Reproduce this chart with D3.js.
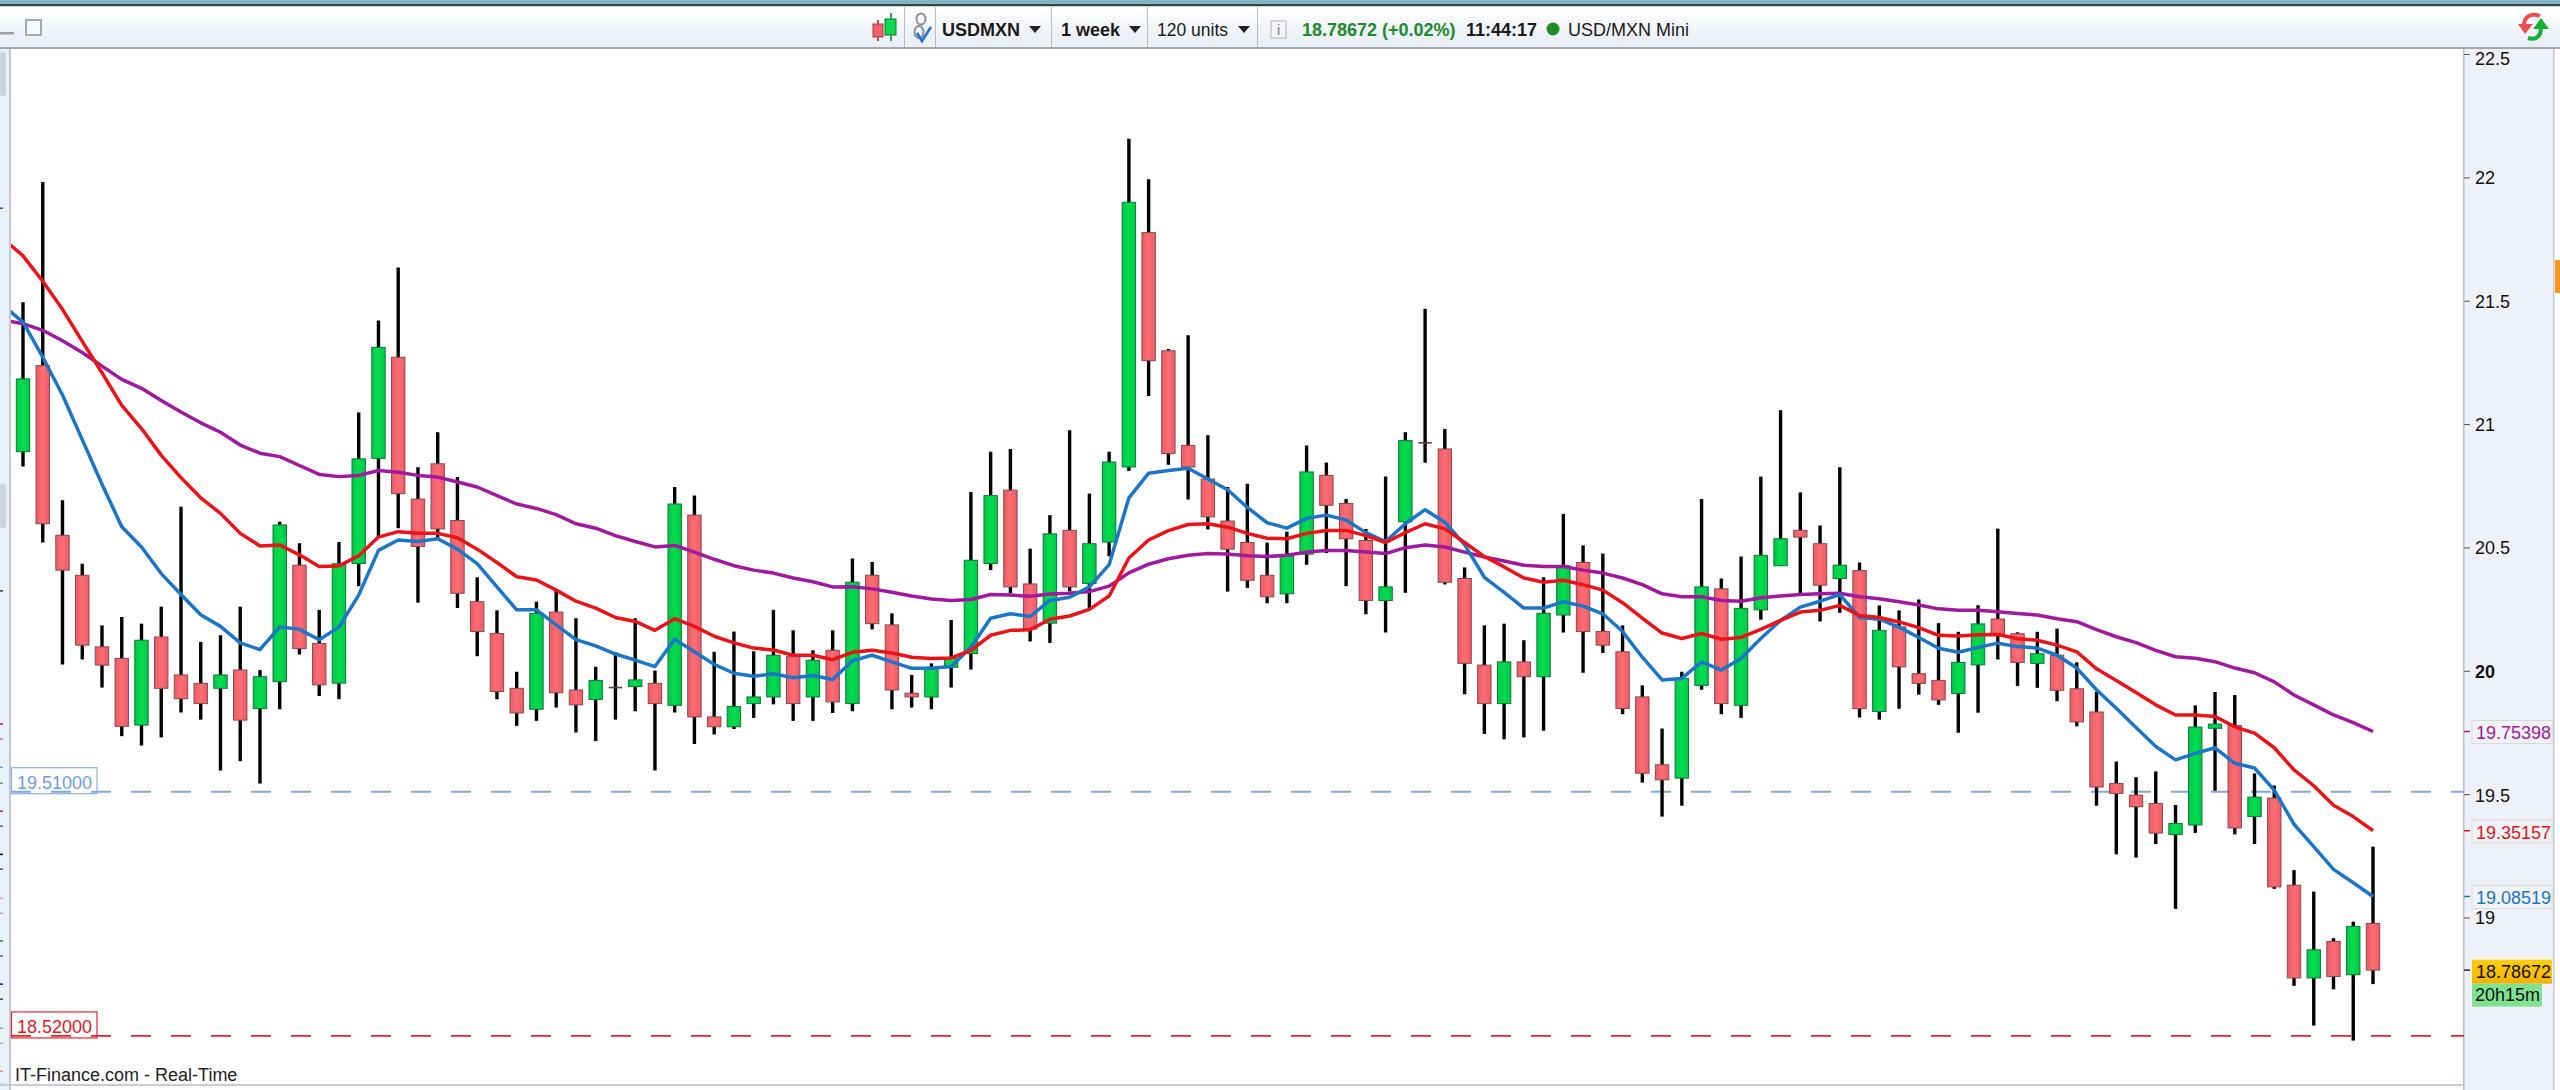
<!DOCTYPE html>
<html><head><meta charset="utf-8">
<script src="https://cdnjs.cloudflare.com/ajax/libs/d3/7.8.5/d3.min.js"></script>
<style>html,body{margin:0;padding:0;background:#fff;overflow:hidden}svg{display:block}text{font-family:"Liberation Sans",Arial,sans-serif}</style>
</head><body><svg id="c" width="2560" height="1090"></svg>
<script>
const highs=[21.494,21.981,20.691,20.434,20.184,20.218,20.191,20.260,20.665,20.117,
20.144,20.260,20.003,20.604,20.517,20.247,20.522,21.047,21.420,21.635,
20.825,20.967,20.785,20.379,20.245,19.996,20.280,20.325,20.213,20.016,
20.075,20.213,20.001,20.745,20.710,20.077,20.159,20.079,20.247,20.164,
20.083,20.164,20.455,20.441,20.233,19.983,20.030,20.206,20.725,20.888,
20.899,20.495,20.631,20.975,20.718,20.888,22.156,21.992,21.304,21.360,
20.955,20.745,20.758,20.520,20.564,20.913,20.844,20.696,20.575,20.787,
20.967,21.467,20.980,20.419,20.184,20.191,20.124,20.379,20.636,20.508,
20.475,20.184,19.941,19.766,19.996,20.696,20.374,20.463,20.787,21.056,
20.723,20.589,20.825,20.439,20.265,20.245,20.289,20.193,20.158,20.266,
20.576,20.156,20.158,20.171,20.034,19.915,19.632,19.569,19.592,19.456,
19.860,19.914,19.902,19.584,19.535,19.192,19.105,18.916,18.983,19.287];
const lows=[20.828,20.520,20.025,20.046,19.932,19.735,19.697,19.730,19.831,19.802,
19.596,19.634,19.543,19.844,20.066,19.898,19.885,20.343,20.542,20.578,
20.276,20.530,20.254,20.059,19.885,19.777,19.797,19.851,19.750,19.715,
19.802,19.836,19.596,19.831,19.703,19.742,19.764,19.809,19.864,19.797,
19.797,19.829,19.836,20.168,19.844,19.851,19.844,19.932,20.005,20.408,
20.314,20.119,20.113,20.321,20.251,20.464,20.810,21.114,20.835,20.694,
20.573,20.321,20.336,20.274,20.274,20.430,20.477,20.343,20.229,20.155,
20.316,20.843,20.350,19.905,19.744,19.722,19.730,19.757,20.155,19.992,
20.072,19.824,19.547,19.409,19.453,19.923,19.824,19.809,20.207,20.425,
20.307,20.200,20.235,19.811,19.802,19.846,19.903,19.862,19.749,19.830,
20.046,19.938,19.931,19.877,19.775,19.453,19.256,19.243,19.298,19.035,
19.343,19.514,19.337,19.298,19.116,18.723,18.562,18.709,18.501,18.730];
const opens=[20.888,21.237,20.549,20.387,20.097,20.050,19.780,20.137,19.983,19.949,
19.929,20.003,19.847,19.956,20.428,20.111,19.950,20.435,20.861,21.271,
20.696,20.839,20.609,20.280,20.151,19.929,19.844,20.238,19.922,19.884,
19.932,19.936,19.949,19.860,20.631,19.813,19.773,19.867,19.894,20.057,
19.894,20.083,19.867,20.387,20.186,19.909,19.894,20.014,20.070,20.435,
20.732,20.352,20.193,20.569,20.354,20.522,20.826,21.776,21.297,20.913,
20.777,20.607,20.520,20.387,20.312,20.473,20.792,20.678,20.528,20.285,
20.604,20.924,20.899,20.374,20.023,19.867,20.036,19.976,20.226,20.439,
20.159,20.077,19.894,19.619,19.565,19.941,20.332,19.860,20.247,20.426,
20.569,20.515,20.374,20.406,19.835,20.178,19.988,19.961,19.908,20.024,
20.210,20.150,20.030,20.063,19.927,19.833,19.543,19.496,19.462,19.336,
19.375,19.767,19.778,19.409,19.484,19.131,18.755,18.903,18.768,18.976];
const closes=[21.183,20.596,20.408,20.104,20.023,19.775,20.124,19.929,19.887,19.867,
19.983,19.800,19.976,20.591,20.090,19.943,20.434,20.859,21.311,20.718,
20.504,20.575,20.314,20.159,19.916,19.829,20.233,19.911,19.862,19.961,
19.932,19.963,19.867,20.676,19.813,19.773,19.855,19.894,20.063,19.867,
20.043,19.874,20.359,20.191,19.922,19.894,20.012,20.050,20.448,20.710,
20.340,20.169,20.555,20.340,20.515,20.846,21.899,21.257,20.881,20.826,
20.624,20.493,20.367,20.300,20.466,20.806,20.671,20.535,20.285,20.340,
20.933,20.924,20.359,20.030,19.867,20.036,19.976,20.233,20.426,20.159,
20.104,19.847,19.585,19.558,19.969,20.340,19.867,20.253,20.468,20.535,
20.542,20.347,20.428,19.847,20.164,20.016,19.949,19.882,20.034,20.190,
20.144,20.034,20.069,19.921,19.793,19.529,19.503,19.449,19.342,19.381,
19.772,19.784,19.363,19.488,19.124,18.755,18.869,18.761,18.964,18.787];
// moving averages: first value belongs to the bar just left of the visible window
const maBlue=[21.480,21.413,21.271,21.118,20.937,20.756,20.584,20.502,20.394,20.309,20.227,
20.180,20.113,20.086,20.178,20.168,20.126,20.177,20.307,20.488,20.530,
20.524,20.535,20.493,20.434,20.340,20.247,20.247,20.186,20.126,20.101,
20.068,20.043,20.017,20.128,20.077,20.026,19.990,19.978,19.988,19.972,
19.981,19.965,20.041,20.063,20.036,20.010,20.010,20.017,20.095,20.213,
20.231,20.220,20.285,20.298,20.340,20.430,20.701,20.801,20.812,20.821,
20.777,20.734,20.662,20.600,20.578,20.618,20.631,20.611,20.560,20.524,
20.596,20.653,20.602,20.511,20.379,20.318,20.254,20.254,20.280,20.262,
20.231,20.159,20.055,19.963,19.969,20.036,20.003,20.050,20.131,20.204,
20.258,20.282,20.309,20.216,20.209,20.177,20.135,20.091,20.075,20.095,
20.112,20.098,20.092,20.063,20.011,19.923,19.848,19.770,19.693,19.639,
19.665,19.688,19.625,19.606,19.516,19.378,19.287,19.195,19.141,19.085];
const maRed=[21.751,21.682,21.579,21.465,21.335,21.208,21.076,20.982,20.873,20.783,20.701,
20.638,20.557,20.506,20.510,20.470,20.423,20.425,20.466,20.542,20.564,
20.557,20.557,20.539,20.493,20.439,20.381,20.368,20.327,20.282,20.254,
20.216,20.200,20.164,20.211,20.180,20.140,20.113,20.092,20.084,20.063,
20.063,20.045,20.075,20.083,20.072,20.055,20.050,20.052,20.083,20.144,
20.164,20.166,20.209,20.222,20.249,20.303,20.457,20.530,20.568,20.593,
20.596,20.582,20.557,20.537,20.535,20.557,20.569,20.569,20.548,20.520,
20.560,20.596,20.575,20.520,20.463,20.421,20.376,20.359,20.367,20.349,
20.327,20.276,20.213,20.153,20.131,20.151,20.128,20.135,20.168,20.204,
20.238,20.245,20.265,20.224,20.216,20.198,20.175,20.144,20.141,20.146,
20.147,20.130,20.124,20.104,20.077,20.008,19.961,19.912,19.862,19.821,
19.821,19.815,19.773,19.747,19.688,19.598,19.534,19.455,19.409,19.352];
const maPurple=[21.422,21.407,21.380,21.338,21.290,21.235,21.181,21.145,21.096,21.049,21.005,
20.967,20.915,20.882,20.868,20.832,20.796,20.787,20.792,20.812,20.805,
20.792,20.785,20.765,20.745,20.710,20.676,20.658,20.633,20.596,20.578,
20.548,20.524,20.502,20.508,20.481,20.452,20.426,20.408,20.396,20.376,
20.361,20.340,20.341,20.332,20.318,20.303,20.291,20.285,20.289,20.309,
20.307,20.302,20.311,20.314,20.321,20.343,20.397,20.432,20.454,20.468,
20.475,20.473,20.466,20.463,20.468,20.481,20.488,20.488,20.481,20.475,
20.499,20.510,20.502,20.481,20.461,20.445,20.428,20.423,20.423,20.408,
20.396,20.376,20.349,20.312,20.300,20.300,20.285,20.282,20.296,20.303,
20.309,20.312,20.314,20.300,20.292,20.280,20.267,20.251,20.245,20.245,
20.239,20.232,20.226,20.211,20.199,20.167,20.138,20.114,20.083,20.057,
20.051,20.037,20.011,19.992,19.955,19.902,19.862,19.821,19.790,19.754];
const axisTicks=[22.5,22,21.5,21,20.5,20,19.5,19];
const boldTick=20;
const levelBlue=19.51, levelRed=18.52;
const lastPrice=18.78672, lastBlue=19.08519, lastRed=19.35157, lastPurple=19.75398;
const leftMarks=[[21.878,"#3040c0"],[20.327,"#333"],[19.787,"#e02020"],[19.726,"#c08080"],[19.612,"#6f9be8"],[19.547,"#888"],[19.434,"#a020a0"],[19.373,"#666"],[19.259,"#111"],[19.199,"#555"],[19.081,"#e8a0b0"],[19.02,"#c0a0a0"],[18.908,"#109030"],[18.847,"#666"],[18.733,"#101090"],[18.672,"#444"],[18.554,"#999"],[18.493,"#aaa"],[18.38,"#f09040"],[18.327,"#aaa"]];

const W=2560,H=1090,plotL=11,plotR=2464,plotB=1084;
const svg=d3.select("#c");
const defs=svg.append("defs");
defs.append("clipPath").attr("id","plot").append("rect").attr("x",plotL).attr("y",48).attr("width",plotR-plotL).attr("height",plotB-48);
const tb=defs.append("linearGradient").attr("id","tb").attr("x1",0).attr("x2",0).attr("y1",0).attr("y2",1);
tb.append("stop").attr("offset",0).attr("stop-color","#ffffff");tb.append("stop").attr("offset",1).attr("stop-color","#e6edf5");
const gold=defs.append("linearGradient").attr("id","gold").attr("x1",0).attr("x2",0).attr("y1",0).attr("y2",1);
gold.append("stop").attr("offset",0).attr("stop-color","#ffcf10");gold.append("stop").attr("offset",1).attr("stop-color","#f5b000");
const rg=defs.append("linearGradient").attr("id","rb");
[[0,"#ee5a64"],[.5,"#fb6e76"],[1,"#ee5a64"]].forEach(s=>rg.append("stop").attr("offset",s[0]).attr("stop-color",s[1]));
const gg=defs.append("linearGradient").attr("id","gb");
[[0,"#00c846"],[.5,"#05dc50"],[1,"#00c846"]].forEach(s=>gg.append("stop").attr("offset",s[0]).attr("stop-color",s[1]));

const x=d3.scaleLinear().domain([0,119]).range([23,2373]);
const y=d3.scaleLinear().domain([19,22.5]).range([917.5,54]);

svg.append("rect").attr("width",W).attr("height",H).attr("fill","#fff");
// frame
svg.append("rect").attr("x",0).attr("y",48).attr("width",plotL-1).attr("height",H-48).attr("fill","#e8f0f8");
svg.append("rect").attr("x",plotL-2).attr("y",48).attr("width",2).attr("height",H-48).attr("fill","#c3c9d3");
svg.append("rect").attr("x",0).attr("y",52).attr("width",6).attr("height",44).attr("rx",2).attr("fill","#cdd3dc");
svg.append("rect").attr("x",0).attr("y",484).attr("width",6).attr("height",44).attr("rx",2).attr("fill","#d0d4da");
svg.selectAll(".lm").data(leftMarks).join("rect").attr("x",0).attr("width",3).attr("height",1.5).attr("y",d=>y(d[0])).attr("fill",d=>d[1]);
svg.append("rect").attr("x",plotR).attr("y",48).attr("width",2554-plotR).attr("height",H-48).attr("fill","#eef2f8");
svg.append("rect").attr("x",plotR-1).attr("y",48).attr("width",1.5).attr("height",H-48).attr("fill","#b9c0cb");
svg.append("rect").attr("x",2553).attr("y",48).attr("width",1.5).attr("height",H-48).attr("fill","#c3c9d3");
svg.append("rect").attr("x",2555).attr("y",260).attr("width",5).attr("height",33).attr("fill","#f59a20");
svg.append("rect").attr("x",0).attr("y",plotB).attr("width",plotR).attr("height",2).attr("fill","#c8ccd4");

const plot=svg.append("g").attr("clip-path","url(#plot)");
// level lines
[[levelBlue,"#7ea6ee"],[levelRed,"#e2232b"]].forEach(l=>{
 plot.append("line").attr("x1",plotL).attr("x2",plotR).attr("y1",y(l[0])).attr("y2",y(l[0])).attr("stroke",l[1]).attr("stroke-width",1.9).attr("stroke-dasharray","20 20");
});
const idx=d3.range(closes.length);
plot.selectAll(".w").data(idx).join("line").attr("x1",x).attr("x2",x).attr("y1",i=>y(highs[i])).attr("y2",i=>y(lows[i])).attr("stroke","#000").attr("stroke-width",3.4);
plot.selectAll(".b").data(idx.filter(i=>closes[i]!==opens[i])).join("rect")
 .attr("x",i=>x(i)-6.7).attr("width",13.4)
 .attr("y",i=>y(Math.max(opens[i],closes[i])))
 .attr("height",i=>Math.abs(y(opens[i])-y(closes[i])))
 .attr("fill",i=>closes[i]>opens[i]?"url(#gb)":"url(#rb)")
 .attr("stroke",i=>closes[i]>opens[i]?"#0d7a35":"#8a4a4e").attr("stroke-width",1);
plot.selectAll(".d").data(idx.filter(i=>closes[i]===opens[i])).join("line")
 .attr("x1",i=>x(i)-6.7).attr("x2",i=>x(i)+6.7).attr("y1",i=>y(closes[i])).attr("y2",i=>y(closes[i])).attr("stroke","#6a3a3c").attr("stroke-width",1.6);
const line=d3.line().x((d,i)=>x(i-1)).y(d=>y(d));
[[maPurple,"#a2189f"],[maBlue,"#1b75c9"],[maRed,"#ec1218"]].forEach(s=>{
 plot.append("path").attr("d",line(s[0])).attr("fill","none").attr("stroke",s[1]).attr("stroke-width",3.5).attr("stroke-linejoin","round");
});
// left level labels
[[levelBlue,"#8ab0e8","#6f9be8","19.51000"],[levelRed,"#e0282e","#e0181e","18.52000"]].forEach(l=>{
 const yy=y(l[0]);
 svg.append("rect").attr("x",11.5).attr("y",yy-24).attr("width",85.5).attr("height",26).attr("fill","none").attr("stroke",l[1]).attr("stroke-width",1.2);
 svg.append("text").attr("x",17).attr("y",yy-2.5).attr("font-size",18).attr("fill",l[2]).text(l[3]);
});
svg.append("text").attr("x",15).attr("y",1081).attr("font-size",18).attr("fill","#222").text("IT-Finance.com - Real-Time");
// axis
const ax=d3.axisRight(y).tickValues(axisTicks).tickSize(6).tickPadding(5).tickFormat(d=>String(d));
const axg=svg.append("g").attr("transform",`translate(${plotR},0)`).call(ax);
axg.select(".domain").remove();
axg.selectAll(".tick line").attr("stroke","#555");
axg.selectAll(".tick text").attr("font-size",18).attr("font-family",'"Liberation Sans",Arial,sans-serif').attr("fill","#111")
 .attr("font-weight",d=>d===boldTick?"700":"400").attr("dy",d=>d===22.5?"0.58em":d===19.5?"0.42em":"0.36em");
// right value boxes
[[lastPurple,"#a2189f"],[lastRed,"#e0161c"],[lastBlue,"#1b75c9"]].forEach(b=>{
 const yy=y(b[0]);
 svg.append("line").attr("x1",plotR).attr("x2",plotR+6).attr("y1",yy).attr("y2",yy).attr("stroke",b[1]).attr("stroke-width",1.5);
 svg.append("rect").attr("x",2472).attr("y",yy-11).attr("width",80).attr("height",23).attr("fill","#f1f2f4").attr("stroke","#d8dade");
 svg.append("text").attr("x",2476).attr("y",yy+8).attr("font-size",18).attr("fill",b[1]).text(b[0].toFixed(5));
});
const yl=y(lastPrice);
svg.append("line").attr("x1",plotR).attr("x2",plotR+6).attr("y1",yl).attr("y2",yl).attr("stroke","#222").attr("stroke-width",1.5);
svg.append("rect").attr("x",2472).attr("y",yl-10.5).attr("width",80).attr("height",24).attr("fill","url(#gold)");
svg.append("text").attr("x",2476).attr("y",yl+8).attr("font-size",18).attr("fill","#111").text(lastPrice.toFixed(5));
svg.append("rect").attr("x",2472).attr("y",yl+13.5).attr("width",70).attr("height",23).attr("fill","#7fe28f");
svg.append("text").attr("x",2475).attr("y",yl+30.5).attr("font-size",18).attr("fill","#111").text("20h15m");
// top bar
svg.append("rect").attr("width",W).attr("height",5).attr("fill","#86b3c2");
svg.append("rect").attr("y",4).attr("width",W).attr("height",2.5).attr("fill","#36474f");
svg.append("rect").attr("y",6.5).attr("width",W).attr("height",41).attr("fill","url(#tb)");
svg.append("rect").attr("y",47).attr("width",W).attr("height",2).attr("fill","#a4a8ae");
svg.append("rect").attr("x",0).attr("y",32).attr("width",14).attr("height",2.5).attr("fill","#9aa0a8");
svg.append("rect").attr("x",26).attr("y",20).attr("width",15).attr("height",15).attr("fill","#f6f8fb").attr("stroke","#a6abb2").attr("stroke-width",2);
[904,935,1051,1147,1257].forEach(v=>svg.append("rect").attr("x",v).attr("y",7).attr("width",1).attr("height",40).attr("fill","#b8bec6"));
// candle icon
svg.append("line").attr("x1",878).attr("x2",878).attr("y1",20).attr("y2",41).attr("stroke","#a02020").attr("stroke-width",1.5);
svg.append("rect").attr("x",873).attr("y",24).attr("width",10).attr("height",13).attr("fill","#f4626c").attr("stroke","#a04040");
svg.append("line").attr("x1",891).attr("x2",891).attr("y1",13).attr("y2",41).attr("stroke","#0a7a30").attr("stroke-width",1.5);
svg.append("rect").attr("x",885).attr("y",19).attr("width",11).attr("height",16).attr("fill","#10d850").attr("stroke","#0a7a30");
// link icon
svg.append("ellipse").attr("cx",921).attr("cy",19).attr("rx",4.5).attr("ry",5.5).attr("fill","none").attr("stroke","#8a8f96").attr("stroke-width",2);
svg.append("ellipse").attr("cx",919).attr("cy",32).attr("rx",4.5).attr("ry",6).attr("fill","none").attr("stroke","#8a8f96").attr("stroke-width",2);
svg.append("path").attr("d","M917 33 L922 41 L931 27").attr("fill","none").attr("stroke","#2a72d0").attr("stroke-width",2.6);
const tbt=(xx,t,o={})=>svg.append("text").attr("x",xx).attr("y",35.5).attr("font-size",o.s||18).attr("font-weight",o.b?"700":"400").attr("fill",o.c||"#1a1a1a").text(t);
const tri=xx=>svg.append("path").attr("d",`M${xx-6} 26 L${xx+6} 26 L${xx} 33 Z`).attr("fill","#222");
tbt(942,"USDMXN",{b:1});tri(1035);
tbt(1061,"1 week",{b:1});tri(1135);
tbt(1157,"120 units",{s:17.5});tri(1244);
svg.append("rect").attr("x",1271).attr("y",21).attr("width",15).attr("height",17).attr("fill","#f4f5f6").attr("stroke","#b0b4ba");
svg.append("text").attr("x",1278.5).attr("y",35).attr("text-anchor","middle").attr("font-size",14).attr("fill","#777").text("i");
tbt(1302,"18.78672 (+0.02%)",{b:1,c:"#1d8a2a"});
tbt(1466,"11:44:17",{b:1});
svg.append("circle").attr("cx",1553).attr("cy",29).attr("r",6.5).attr("fill","#1d8f22");
tbt(1568,"USD/MXN Mini");
// refresh icon
svg.append("path").attr("d","M2540 16 C2530 12 2524 18 2524 25").attr("fill","none").attr("stroke","#ee4a50").attr("stroke-width",4);
svg.append("path").attr("d","M2518 24 L2533 24 L2525 34 Z").attr("fill","#ee4a50");
svg.append("path").attr("d","M2528 38 C2538 41 2541 34 2541 28").attr("fill","none").attr("stroke","#14b030").attr("stroke-width",4);
svg.append("path").attr("d","M2533 29 L2549 29 L2541 18 Z").attr("fill","#14b030");
</script></body></html>
